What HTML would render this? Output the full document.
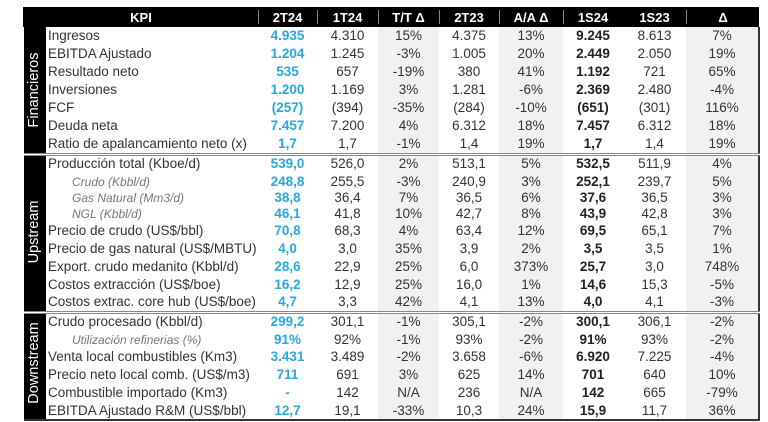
<!DOCTYPE html>
<html><head><meta charset="utf-8"><style>
body{margin:0;background:#fff;width:768px;height:422px;overflow:hidden;font-family:"Liberation Sans",sans-serif;}
#w{position:absolute;left:23px;top:7px;width:735px;}
table{border-collapse:collapse;table-layout:fixed;width:735px;font-size:13.5px;color:#333;}
td{padding:0;text-align:center;white-space:nowrap;overflow:hidden;line-height:14px;}
th{background:#000;color:#fff;font-size:13px;height:20px;padding:0;font-weight:bold;border-left:2px solid #000;position:relative}
th.s::before{content:"";position:absolute;left:-1px;top:3px;height:14px;border-left:1px solid #888}
td.k{text-align:left;padding-left:2px;color:#333}
td.i{text-align:left;padding-left:26px;font-style:italic;color:#777;font-size:12px}
td.b{color:#2aa7dc;font-weight:bold}
td.g{background:#f1f1f1}
td.x{font-weight:bold;color:#222}
td.sec{background:#000;}
tr.t td{border-top:3px double #888}
td.r{border-right:2px solid #333}
.lab{position:absolute;left:34px;color:#fff;font-size:14.5px;white-space:nowrap;transform:translate(-50%,-50%) rotate(-90deg);}
</style></head><body><div id="w"><table>
<colgroup><col style="width:22px"><col style="width:212px"><col style="width:59px"><col style="width:61px"><col style="width:61px"><col style="width:60px"><col style="width:64px"><col style="width:60px"><col style="width:63px"><col style="width:73px"></colgroup>
<tr><th colspan="2">KPI</th><th class="s">2T24</th><th class="s">1T24</th><th class="s">T/T Δ</th><th class="s">2T23</th><th class="s">A/A Δ</th><th class="s">1S24</th><th>1S23</th><th class="s">Δ</th></tr>
<tr style="height:18px"><td class="sec" rowspan="7"></td><td class="k">Ingresos</td><td class="b">4.935</td><td>4.310</td><td class="g">15%</td><td>4.375</td><td class="g">13%</td><td class="x">9.245</td><td>8.613</td><td class="g r">7%</td></tr>
<tr style="height:18px"><td class="k">EBITDA Ajustado</td><td class="b">1.204</td><td>1.245</td><td class="g">-3%</td><td>1.005</td><td class="g">20%</td><td class="x">2.449</td><td>2.050</td><td class="g r">19%</td></tr>
<tr style="height:18px"><td class="k">Resultado neto</td><td class="b">535</td><td>657</td><td class="g">-19%</td><td>380</td><td class="g">41%</td><td class="x">1.192</td><td>721</td><td class="g r">65%</td></tr>
<tr style="height:18px"><td class="k">Inversiones</td><td class="b">1.200</td><td>1.169</td><td class="g">3%</td><td>1.281</td><td class="g">-6%</td><td class="x">2.369</td><td>2.480</td><td class="g r">-4%</td></tr>
<tr style="height:18px"><td class="k">FCF</td><td class="b">(257)</td><td>(394)</td><td class="g">-35%</td><td>(284)</td><td class="g">-10%</td><td class="x">(651)</td><td>(301)</td><td class="g r">116%</td></tr>
<tr style="height:18px"><td class="k">Deuda neta</td><td class="b">7.457</td><td>7.200</td><td class="g">4%</td><td>6.312</td><td class="g">18%</td><td class="x">7.457</td><td>6.312</td><td class="g r">18%</td></tr>
<tr style="height:19px"><td class="k">Ratio de apalancamiento neto (x)</td><td class="b">1,7</td><td>1,7</td><td class="g">-1%</td><td>1,4</td><td class="g">19%</td><td class="x">1,7</td><td>1,4</td><td class="g r">19%</td></tr>
<tr class="t" style="height:19px"><td class="sec" rowspan="9"></td><td class="k">Producción total (Kboe/d)</td><td class="b">539,0</td><td>526,0</td><td class="g">2%</td><td>513,1</td><td class="g">5%</td><td class="x">532,5</td><td>511,9</td><td class="g r">4%</td></tr>
<tr style="height:17px"><td class="i">Crudo (Kbbl/d)</td><td class="b">248,8</td><td>255,5</td><td class="g">-3%</td><td>240,9</td><td class="g">3%</td><td class="x">252,1</td><td>239,7</td><td class="g r">5%</td></tr>
<tr style="height:16px"><td class="i">Gas Natural (Mm3/d)</td><td class="b">38,8</td><td>36,4</td><td class="g">7%</td><td>36,5</td><td class="g">6%</td><td class="x">37,6</td><td>36,5</td><td class="g r">3%</td></tr>
<tr style="height:16px"><td class="i">NGL (Kbbl/d)</td><td class="b">46,1</td><td>41,8</td><td class="g">10%</td><td>42,7</td><td class="g">8%</td><td class="x">43,9</td><td>42,8</td><td class="g r">3%</td></tr>
<tr style="height:18px"><td class="k">Precio de crudo (US$/bbl)</td><td class="b">70,8</td><td>68,3</td><td class="g">4%</td><td>63,4</td><td class="g">12%</td><td class="x">69,5</td><td>65,1</td><td class="g r">7%</td></tr>
<tr style="height:18px"><td class="k">Precio de gas natural (US$/MBTU)</td><td class="b">4,0</td><td>3,0</td><td class="g">35%</td><td>3,9</td><td class="g">2%</td><td class="x">3,5</td><td>3,5</td><td class="g r">1%</td></tr>
<tr style="height:18px"><td class="k">Export. crudo medanito (Kbbl/d)</td><td class="b">28,6</td><td>22,9</td><td class="g">25%</td><td>6,0</td><td class="g">373%</td><td class="x">25,7</td><td>3,0</td><td class="g r">748%</td></tr>
<tr style="height:18px"><td class="k">Costos extracción (US$/boe)</td><td class="b">16,2</td><td>12,9</td><td class="g">25%</td><td>16,0</td><td class="g">1%</td><td class="x">14,6</td><td>15,3</td><td class="g r">-5%</td></tr>
<tr style="height:18px"><td class="k">Costos extrac. core hub (US$/boe)</td><td class="b">4,7</td><td>3,3</td><td class="g">42%</td><td>4,1</td><td class="g">13%</td><td class="x">4,0</td><td>4,1</td><td class="g r">-3%</td></tr>
<tr class="t" style="height:19px"><td class="sec" rowspan="6"></td><td class="k">Crudo procesado (Kbbl/d)</td><td class="b">299,2</td><td>301,1</td><td class="g">-1%</td><td>305,1</td><td class="g">-2%</td><td class="x">300,1</td><td>306,1</td><td class="g r">-2%</td></tr>
<tr style="height:17px"><td class="i">Utilización refinerias (%)</td><td class="b">91%</td><td>92%</td><td class="g">-1%</td><td>93%</td><td class="g">-2%</td><td class="x">91%</td><td>93%</td><td class="g r">-2%</td></tr>
<tr style="height:18px"><td class="k">Venta local combustibles (Km3)</td><td class="b">3.431</td><td>3.489</td><td class="g">-2%</td><td>3.658</td><td class="g">-6%</td><td class="x">6.920</td><td>7.225</td><td class="g r">-4%</td></tr>
<tr style="height:18px"><td class="k">Precio neto local comb. (US$/m3)</td><td class="b">711</td><td>691</td><td class="g">3%</td><td>625</td><td class="g">14%</td><td class="x">701</td><td>640</td><td class="g r">10%</td></tr>
<tr style="height:18px"><td class="k">Combustible importado (Km3)</td><td class="b">-</td><td>142</td><td class="g">N/A</td><td>236</td><td class="g">N/A</td><td class="x">142</td><td>665</td><td class="g r">-79%</td></tr>
<tr style="height:18px;border-bottom:2px solid #333"><td class="k">EBITDA Ajustado R&amp;M (US$/bbl)</td><td class="b">12,7</td><td>19,1</td><td class="g">-33%</td><td>10,3</td><td class="g">24%</td><td class="x">15,9</td><td>11,7</td><td class="g r">36%</td></tr>
</table></div>
<div class="lab" style="top:90px">Financieros</div>
<div class="lab" style="top:232px">Upstream</div>
<div class="lab" style="top:363px">Downstream</div>
</body></html>
